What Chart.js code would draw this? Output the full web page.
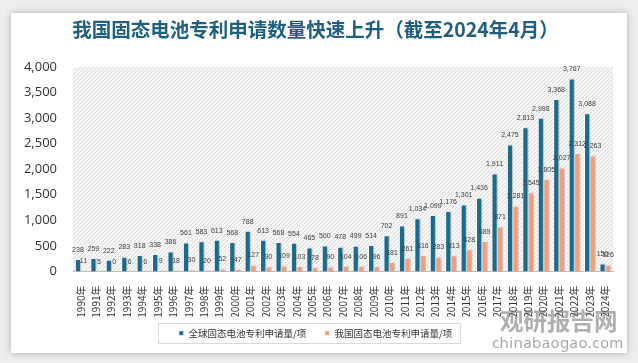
<!DOCTYPE html>
<html>
<head>
<meta charset="utf-8">
<script src="https://cdn.jsdelivr.net/npm/chart.js@4/dist/chart.umd.min.js"></script>
<style>
  html, body { margin: 0; padding: 0; width: 638px; height: 363px; overflow: hidden; background: #eeeeee; }
  #card { position: absolute; left: 11px; top: 13px; width: 616px; height: 340px; background: #ffffff;
          box-shadow: 0 0 7px rgba(0,0,0,0.28); }
  #c { position: absolute; left: 0; top: 0; }
  .wm1 { position: absolute; left: 500px; top: 303px; font-family: "Noto Sans CJK SC"; font-weight: bold;
         font-size: 23.5px; letter-spacing: 0px; color: rgba(110,110,110,0.55); white-space: nowrap; }
  .wm2 { position: absolute; left: 492px; top: 332px; font-family: "Noto Sans", sans-serif;
         font-size: 15px; color: rgba(110,110,110,0.6); white-space: nowrap; letter-spacing: 0.4px; }
</style>
</head>
<body>
<div id="card"></div>
<canvas id="c" width="638" height="363"></canvas>
<div class="wm1">观研报告网</div>
<div class="wm2">chinabaogao.com</div>
<script>
const years = ["1990年","1991年","1992年","1993年","1994年","1995年","1996年","1997年","1998年","1999年",
  "2000年","2001年","2002年","2003年","2004年","2005年","2006年","2007年","2008年","2009年",
  "2010年","2011年","2012年","2013年","2014年","2015年","2016年","2017年","2018年","2019年",
  "2020年","2021年","2022年","2023年","2024年"];
const globalPatents = [238,259,222,283,318,338,386,561,583,613,568,788,613,568,554,465,500,478,499,514,
  702,891,1034,1099,1176,1301,1436,1911,2475,2813,2998,3368,3767,3088,150];
const chinaPatents = [11,5,0,6,6,9,18,30,20,52,47,127,90,109,103,78,90,104,106,96,
  181,261,316,283,313,428,589,871,1281,1545,1805,2027,2312,2263,126];
const seriesNames = ["全球固态电池专利申请量/项","我国固态电池专利申请量/项"];
const titleText = "我国固态电池专利申请数量快速上升（截至2024年4月）";
const yTicks = [0,500,1000,1500,2000,2500,3000,3500,4000];

// hatch pattern
const pc = document.createElement('canvas');
pc.width = 4; pc.height = 4;
const px = pc.getContext('2d');
px.fillStyle = '#f6f6f6'; px.fillRect(0,0,4,4);
px.strokeStyle = '#dcdcdc'; px.lineWidth = 1;
px.beginPath(); px.moveTo(0,4); px.lineTo(4,0); px.stroke();
px.beginPath(); px.moveTo(-1,1); px.lineTo(1,-1); px.stroke();
px.beginPath(); px.moveTo(3,5); px.lineTo(5,3); px.stroke();

const bgPlugin = {
  id: 'bgHatch',
  beforeDraw(chart) {
    const {ctx, chartArea: a} = chart;
    ctx.save();
    ctx.fillStyle = ctx.createPattern(pc, 'repeat');
    ctx.fillRect(a.left, a.top, a.right - a.left, a.bottom - a.top);
    ctx.restore();
  }
};
const shadowPlugin = {
  id: 'barShadow',
  beforeDatasetsDraw(chart) {
    const ctx = chart.ctx;
    ctx.save();
    ctx.shadowColor = 'rgba(0,0,0,0.28)';
    ctx.shadowBlur = 3;
    ctx.shadowOffsetX = 2;
    ctx.shadowOffsetY = 0;
  },
  afterDatasetsDraw(chart) { chart.ctx.restore(); }
};
const labelPlugin = {
  id: 'valLabels',
  afterDatasetsDraw(chart) {
    const ctx = chart.ctx;
    ctx.save();
    ctx.font = '7px "Liberation Sans", sans-serif';
    ctx.fillStyle = '#404040';
    ctx.textAlign = 'center';
    ctx.textBaseline = 'middle';
    chart.data.datasets.forEach((ds, di) => {
      chart.getDatasetMeta(di).data.forEach((el, i) => {
        const v = ds.data[i];
        ctx.fillText(v.toLocaleString('en-US'), el.x, el.y - 9.5);
      });
    });
    ctx.restore();
  }
};
const legendBoxPlugin = {
  id: 'legendBox',
  afterDraw(chart) {
    const hb = chart.legend.legendHitBoxes;
    if (!hb || !hb.length) return;
    const ctx = chart.ctx;
    const l = hb[0].left - 21, r = hb[hb.length-1].left + hb[hb.length-1].width + 8;
    const cy = hb[0].top + hb[0].height / 2;
    ctx.save();
    ctx.strokeStyle = '#d9d9d9'; ctx.lineWidth = 1;
    ctx.strokeRect(Math.round(l) + 0.5, Math.round(cy - 10) + 0.5, Math.round(r - l), 20);
    ctx.restore();
  }
};

new Chart(document.getElementById('c'), {
  type: 'bar',
  data: {
    labels: years,
    datasets: [
      { label: seriesNames[0], data: globalPatents, backgroundColor: '#1b6b8f', borderColor: '#ffffff',
        borderWidth: 1, barThickness: 5.5, categoryPercentage: 0.8, barPercentage: 1 },
      { label: seriesNames[1], data: chinaPatents, backgroundColor: '#ef9f7c', borderColor: '#ffffff',
        borderWidth: 1, barThickness: 5.5, categoryPercentage: 0.8, barPercentage: 1 }
    ]
  },
  options: {
    responsive: false,
    animation: false,
    devicePixelRatio: 1,
    layout: { padding: { left: 18, right: 25, top: 0, bottom: 15 } },
    plugins: {
      title: { display: true, text: titleText, color: '#1f5f7f',
        font: { family: '"Noto Sans CJK SC"', size: 19.5, weight: 'bold' },
        padding: { top: 18, bottom: 25.5 } },
      legend: { position: 'bottom',
        labels: { boxWidth: 5, boxHeight: 5, color: '#333333', padding: 12,
          font: { family: '"Noto Sans CJK SC"', size: 9.5 },
          generateLabels(chart) {
            const items = Chart.defaults.plugins.legend.labels.generateLabels(chart);
            items[0].text = items[0].text + '   ';
            return items;
          } } },
      tooltip: { enabled: false }
    },
    scales: {
      x: {
        grid: { display: false },
        border: { display: true, color: '#bdbdbd', width: 1 },
        ticks: { minRotation: 90, maxRotation: 90, autoSkip: false, padding: 6, color: '#333333',
          font: { family: '"Noto Sans CJK SC"', size: 10 } },
        afterFit(s) { s.height = 45; }
      },
      y: {
        min: 0, max: 4000,
        afterBuildTicks(s) { s.ticks = yTicks.map(v => ({ value: v })); },
        grid: { display: false, drawTicks: false },
        border: { display: false },
        ticks: { padding: 16, color: '#333333',
          font: { family: '"Open Sans", sans-serif', size: 13 },
          callback: v => Number(v).toLocaleString('en-US') },
        afterFit(s) { s.width = 55; }
      }
    }
  },
  plugins: [bgPlugin, shadowPlugin, labelPlugin, legendBoxPlugin]
});
</script>
</body>
</html>
